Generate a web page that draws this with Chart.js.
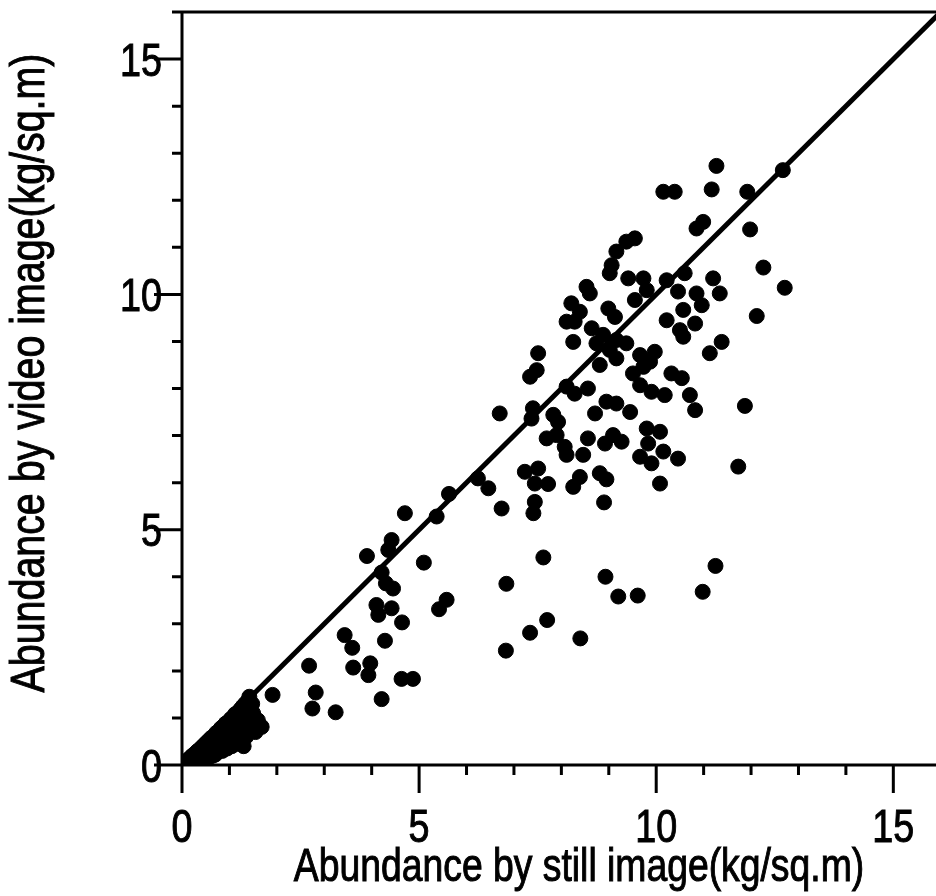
<!DOCTYPE html>
<html>
<head>
<meta charset="utf-8">
<script src="https://cdn.jsdelivr.net/npm/chart.js@4.4.1/dist/chart.umd.min.js"></script>
<style>
  html, body { margin: 0; padding: 0; background: #fff; }
  #wrap { width: 936px; height: 896px; position: relative; }
</style>
</head>
<body>
<div id="wrap"><canvas id="scatter"></canvas></div>
<script>
// still image abundance (x) vs video image abundance (y), kg/sq.m
const stillX = [
  0.03, 0.06, 0.08, 0.1, 0.12, 0.14, 0.16, 0.18, 0.2, 0.22,
  0.25, 0.27, 0.3, 0.32, 0.35, 0.37, 0.4, 0.42, 0.45, 0.47,
  0.5, 0.52, 0.55, 0.57, 0.6, 0.62, 0.65, 0.68, 0.7, 0.72,
  0.75, 0.78, 0.8, 0.82, 0.85, 0.88, 0.9, 0.92, 0.95, 0.98,
  1.0, 1.03, 1.05, 1.08, 1.1, 1.12, 1.15, 1.18, 1.2, 1.23,
  1.25, 1.28, 1.3, 1.33, 1.36, 1.4, 1.45, 1.5, 1.55, 1.6,
  0.85, 0.95, 1.05, 1.15, 1.25, 1.35, 1.42, 0.7, 0.6, 1.3,
  0.2, 0.3, 0.4, 0.45, 0.5, 0.55, 0.65, 1.48, 1.38, 1.2,
  4.70, 5.63, 5.37, 4.42, 4.35, 3.90, 5.10, 4.21, 4.30, 4.45,
  4.10, 4.42, 4.14, 4.64, 5.58, 5.42, 3.43, 3.59, 4.28, 2.68,
  3.61, 3.97, 3.93, 4.63, 4.87, 2.82, 2.75, 3.24, 4.21, 1.91,
  1.68, 6.74, 7.44, 7.41, 8.90, 8.25, 8.39, 6.46, 6.24, 7.23,
  7.51, 7.44, 7.72, 8.81, 8.95, 7.62, 6.84, 8.93, 9.20, 9.61,
  11.25, 10.98, 7.70, 7.34, 8.40, 6.83, 9.55, 9.37, 9.16, 10.85,
  10.99, 9.06, 9.02, 9.41, 9.73, 10.22, 10.60, 11.20, 9.80, 10.46,
  10.85, 11.34, 8.53, 8.60, 9.55, 8.21, 8.99, 9.13, 8.39, 8.11,
  8.28, 10.96, 10.57, 10.22, 10.82, 10.50, 10.57, 8.64, 8.88, 8.74,
  9.16, 9.37, 8.25, 11.38, 11.13, 9.02, 9.66, 9.97, 8.81, 9.16,
  9.87, 7.51, 7.48, 7.34, 9.51, 9.73, 10.32, 10.54, 9.66, 9.90,
  10.18, 10.71, 10.82, 8.11, 8.28, 8.56, 8.95, 9.16, 9.45, 8.71,
  7.40, 7.37, 6.70, 7.83, 7.93, 7.69, 7.90, 8.07, 8.11, 8.46,
  8.56, 8.92, 9.09, 9.27, 9.80, 10.08, 9.83, 9.66, 9.90, 10.15,
  10.46, 10.08, 11.73, 11.87, 12.67, 11.27, 10.15, 10.39, 11.17, 11.92,
  11.98, 12.26, 12.71, 12.12
];
const videoY = [
  0.02, 0.05, 0.03, 0.09, 0.06, 0.12, 0.07, 0.16, 0.1, 0.2,
  0.13, 0.24, 0.15, 0.29, 0.2, 0.33, 0.18, 0.38, 0.26, 0.43,
  0.22, 0.48, 0.3, 0.53, 0.28, 0.58, 0.4, 0.62, 0.3, 0.68,
  0.45, 0.72, 0.35, 0.78, 0.55, 0.83, 0.42, 0.88, 0.65, 0.92,
  0.45, 0.98, 0.75, 1.02, 0.52, 1.08, 0.85, 1.12, 0.6, 1.18,
  0.95, 1.24, 0.7, 1.3, 1.05, 1.38, 0.8, 1.1, 0.7, 0.95,
  0.3, 0.35, 0.4, 0.45, 0.5, 0.6, 1.45, 0.22, 0.18, 0.4,
  0.05, 0.08, 0.1, 0.14, 0.12, 0.18, 0.2, 1.3, 0.75, 0.9,
  5.35, 5.76, 5.28, 4.78, 4.57, 4.44, 4.30, 4.09, 3.86, 3.75,
  3.40, 3.33, 3.19, 3.03, 3.51, 3.31, 2.76, 2.49, 2.64, 2.11,
  2.07, 2.16, 1.91, 1.83, 1.83, 1.54, 1.20, 1.12, 1.40, 1.49,
  0.81, 5.45, 5.59, 5.35, 5.58, 5.91, 6.12, 5.88, 6.09, 6.23,
  6.30, 5.98, 5.97, 6.20, 6.07, 4.41, 3.85, 4.00, 3.58, 3.60,
  4.23, 3.68, 3.08, 2.81, 2.69, 2.43, 11.19, 11.12, 10.91, 11.40,
  11.54, 10.62, 10.45, 10.34, 10.34, 10.30, 10.45, 10.34, 10.09, 10.06,
  10.02, 10.02, 10.16, 10.02, 9.88, 9.81, 9.70, 9.52, 9.63, 9.42,
  9.42, 9.77, 9.67, 9.45, 9.38, 9.24, 9.10, 9.28, 9.14, 8.96,
  9.03, 8.96, 8.99, 8.99, 8.75, 8.82, 8.71, 8.78, 8.50, 8.64,
  8.57, 8.75, 8.39, 8.25, 8.32, 8.46, 8.32, 8.22, 8.07, 7.93,
  7.86, 7.86, 7.54, 8.04, 7.89, 8.00, 7.72, 7.68, 7.50, 7.47,
  7.58, 7.36, 7.47, 7.44, 7.29, 6.94, 7.01, 6.76, 6.59, 6.59,
  6.94, 6.83, 7.01, 6.87, 7.15, 7.08, 6.83, 6.55, 6.41, 6.66,
  6.51, 5.98, 6.34, 7.63, 12.64, 12.73, 12.18, 12.18, 12.23, 12.18,
  11.38, 10.57, 10.14, 9.54
];
// 1:1 reference line
const lineX = [0, 16];
const lineY = [0, 16];

const xTicks = [0, 5, 10, 15];
const yTicks = [0, 5, 10, 15];
const xTitle = "Abundance by still image(kg/sq.m)";
const yTitle = "Abundance by video image(kg/sq.m)";

const fontFamily = "'Liberation Sans', Arial, sans-serif";
const squeeze = 0.82; // the original lettering is a narrow face

const points = stillX.map((v, i) => ({ x: v, y: videoY[i] }));
const linePts = lineX.map((v, i) => ({ x: v, y: lineY[i] }));

function narrowText(ctx, text, x, y, align) {
  ctx.save();
  ctx.translate(x, y);
  ctx.scale(squeeze, 1);
  ctx.textAlign = align;
  ctx.lineWidth = 1;
  ctx.fillText(text, 0, 0);
  ctx.strokeText(text, 0, 0);
  ctx.restore();
}

// axis lines, major/minor ticks, tick labels and titles
const frame = {
  id: "frame",
  beforeDatasetsDraw(chart) {
    const { ctx, chartArea: a, scales } = chart;
    const x = scales.x, y = scales.y;
    ctx.save();
    ctx.strokeStyle = "#000";
    ctx.lineWidth = 3;
    ctx.beginPath();
    ctx.moveTo(a.left, a.top - 1.5);
    ctx.lineTo(a.left, a.bottom);
    ctx.moveTo(a.left - 1.5, a.bottom);
    ctx.lineTo(a.right, a.bottom);
    ctx.moveTo(a.left, a.top);
    ctx.lineTo(a.right, a.top);
    for (let v = 0; v <= x.max; v++) {
      const px = x.getPixelForValue(v);
      ctx.moveTo(px, a.bottom);
      ctx.lineTo(px, a.bottom + (v % 5 === 0 ? 28 : 10));
    }
    for (let v = 0; v <= y.max; v++) {
      const py = y.getPixelForValue(v);
      ctx.moveTo(a.left, py);
      ctx.lineTo(a.left - (v % 5 === 0 ? 28 : 10), py);
    }
    ctx.stroke();

    ctx.fillStyle = "#000";
    ctx.textBaseline = "alphabetic";
    ctx.font = "46px " + fontFamily;
    xTicks.forEach((v) => narrowText(ctx, String(v), x.getPixelForValue(v), 842, "center"));
    yTicks.forEach((v) => narrowText(ctx, String(v), 162, y.getPixelForValue(v) + 16.5, "right"));

    ctx.font = "45.5px " + fontFamily;
    narrowText(ctx, xTitle, 579, 881, "center");

    ctx.translate(44, 373);
    ctx.rotate(-Math.PI / 2);
    ctx.font = "48px " + fontFamily;
    narrowText(ctx, yTitle, 0, 0, "center");
    ctx.restore();
  }
};

new Chart(document.getElementById("scatter"), {
  type: "scatter",
  data: {
    datasets: [
      {
        data: points,
        backgroundColor: "#000",
        borderColor: "#000",
        borderWidth: 1,
        pointRadius: 7.5,
        order: 1
      },
      {
        data: linePts,
        showLine: true,
        borderColor: "#000",
        borderWidth: 5,
        pointRadius: 0,
        order: 2
      }
    ]
  },
  options: {
    responsive: true,
    maintainAspectRatio: false,
    devicePixelRatio: 1,
    animation: false,
    layout: { autoPadding: false, padding: { top: 12, right: 0, bottom: 0, left: 0 } },
    plugins: { legend: { display: false }, tooltip: { enabled: false } },
    scales: {
      x: {
        type: "linear",
        min: 0,
        max: 15.9,
        grid: { display: false, drawTicks: false },
        border: { display: false },
        ticks: { display: false },
        afterBuildTicks: (s) => { s.ticks = xTicks.map((v) => ({ value: v })); },
        afterFit: (s) => { s.height = 131; }
      },
      y: {
        type: "linear",
        min: 0,
        max: 16,
        grid: { display: false, drawTicks: false },
        border: { display: false },
        ticks: { display: false },
        afterBuildTicks: (s) => { s.ticks = yTicks.map((v) => ({ value: v })); },
        afterFit: (s) => { s.width = 182; }
      }
    }
  },
  plugins: [frame]
});
</script>
</body>
</html>
